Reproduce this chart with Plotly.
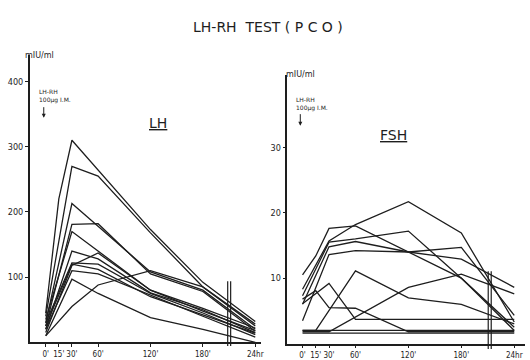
import plotly.graph_objects as go

W, H = 530, 360

# time points (minutes); 240 stands for the 24 hr sample
times = [0, 15, 30, 60, 120, 180, 240]
time_labels = ["0'", "15'", "30'", "60'", "120'", "180'", "24hr"]

# LH (mIU/ml), one list per patient
lh_a = [45, 220, 310, None, 173, 92, 32]
lh_b = [40, None, 270, 255, 168, 85, 25]
lh_c = [30, None, 213, None, 108, 80, 20]
lh_d = [25, None, 181, 182, 105, 78, 17]
lh_e = [35, None, 170, None, 80, 52, 22]
lh_f = [20, None, 140, 128, 76, 50, 15]
lh_g = [30, None, 122, 120, 75, 45, 12]
lh_h = [15, None, 118, 137, 80, 48, 18]
lh_i = [20, None, 110, 105, 72, 40, 8]
lh_j = [10, None, 97, 75, 38, 20, 0]
lh_k = [10, None, 55, 88, 110, 85, 28]
lh_l = [25, None, 120, 112, 70, 42, 14]
lh_series = [lh_a, lh_b, lh_c, lh_d, lh_e, lh_f, lh_g, lh_h, lh_i, lh_j, lh_k, lh_l]

# FSH (mIU/ml)
fsh_a = [8.3, None, 15.7, 18.2, 21.7, 16.9, 3.3]
fsh_b = [10.5, 13.4, 17.6, 18.0, None, 10.0, 2.5]
fsh_c = [7.3, None, 15.5, 16.0, 17.2, 10.0, 2.0]
fsh_d = [6.0, None, 14.8, 15.6, 14.0, 12.9, 8.6]
fsh_e = [3.5, None, 13.6, 14.2, 14.0, 14.7, 4.3]
fsh_f = [2.0, 2.0, None, 11.1, 7.0, 6.0, 3.0]
fsh_g = [6.1, None, 9.2, 3.7, 3.7, 3.7, 3.7]
fsh_h = [6.8, 8.1, 5.5, 5.4, 1.8, 1.8, 1.8]
fsh_i = [1.8, 1.8, 1.8, None, 8.6, 10.6, 7.6]
fsh_j = [1.6, 1.6, 1.6, 1.6, 1.6, 1.6, 1.6]
fsh_k = [2.0, 2.0, 2.0, 2.0, 2.0, 2.0, 2.0]
fsh_series = [fsh_a, fsh_b, fsh_c, fsh_d, fsh_e, fsh_f, fsh_g, fsh_h, fsh_i, fsh_j, fsh_k]

lh_ticks = [100, 200, 300, 400]
fsh_ticks = [10, 20, 30]

INK = "#1e1e1e"

fig = go.Figure()
for s in lh_series:
    fig.add_trace(go.Scatter(x=times, y=s, mode="lines", connectgaps=True,
                             line=dict(color=INK, width=1.3), xaxis="x", yaxis="y",
                             showlegend=False, hoverinfo="skip"))
for s in fsh_series:
    fig.add_trace(go.Scatter(x=times, y=s, mode="lines", connectgaps=True,
                             line=dict(color=INK, width=1.3), xaxis="x2", yaxis="y2",
                             showlegend=False, hoverinfo="skip"))

def px(x):
    return x / W

def py(y):
    return 1 - y / H

axis_common = dict(showline=True, linecolor=INK, linewidth=1.5, showgrid=False,
                   zeroline=False, ticks="outside", ticklen=3, tickcolor=INK, tickangle=0)
xfont = dict(family="DejaVu Sans Condensed, DejaVu Sans", size=8, color=INK)
yfont = dict(family="DejaVu Sans Condensed, DejaVu Sans", size=9, color=INK)

fig.update_layout(
    width=W, height=H, margin=dict(l=0, r=0, t=0, b=0),
    paper_bgcolor="white", plot_bgcolor="white",
    xaxis=dict(domain=[px(30), px(262)], range=[-18.2, 246.0], anchor="y",
               tickvals=times, ticktext=time_labels, tickfont=xfont, **axis_common),
    yaxis=dict(domain=[py(343.3), py(55)], range=[0, 441], anchor="x",
               tickvals=lh_ticks, tickfont=yfont, **axis_common),
    xaxis2=dict(domain=[px(289), px(528)], range=[-17.2, 252.2], anchor="y2",
                tickvals=times, ticktext=time_labels, tickfont=xfont, **axis_common),
    yaxis2=dict(domain=[py(344.5), py(75)], range=[0, 41.1], anchor="x2",
                tickvals=fsh_ticks, tickfont=yfont, **axis_common),
)

font_main = "DejaVu Sans"
ann = []
ann.append(dict(text="LH-RH  TEST ( P C O )", x=px(270), y=py(17), xref="paper", yref="paper",
                showarrow=False, font=dict(family=font_main, size=14, color=INK)))
# unit labels
ann.append(dict(text="mIU/ml", x=px(23), y=py(49), xref="paper", yref="paper",
                showarrow=False, font=dict(family=font_main, size=8, color=INK)))
ann.append(dict(text="mIU/ml", x=px(302), y=py(68), xref="paper", yref="paper",
                showarrow=False, font=dict(family=font_main, size=8, color=INK)))
# panel names
ann.append(dict(text="<u>LH</u>", x=px(148), y=py(113), xref="paper", yref="paper",
                showarrow=False, font=dict(family=font_main, size=14, color=INK)))
ann.append(dict(text="<u>FSH</u>", x=px(411), y=py(135), xref="paper", yref="paper",
                showarrow=False, font=dict(family=font_main, size=14, color=INK)))
# injection notes
for (x0, y0, ax_x, ay_top, ay_bot) in [(37, 96, 44, 106, 118), (296, 104, 302, 113, 126)]:
    ann.append(dict(text="LH-RH<br>100µg I.M.", x=px(x0), y=py(y0), xref="paper", yref="paper",
                    xanchor="left", yanchor="middle", align="left", showarrow=False,
                    font=dict(family=font_main, size=6, color=INK)))
    ann.append(dict(text="", x=px(ax_x), y=py(ay_bot), xref="paper", yref="paper",
                    ax=0, ay=-(ay_bot - ay_top),
                    showarrow=True, arrowhead=2, arrowsize=0.8, arrowwidth=1, arrowcolor=INK))
fig.update_layout(annotations=ann)

# axis break marks
shapes = []
for xr, xa, xb, ytop, ybot in [("x", 208.4, 211.8, 282, 347), ("x2", 210.5, 213.9, 272, 350)]:
    for xv in (xa, xb):
        shapes.append(dict(type="line", xref=xr, yref="paper", x0=xv, x1=xv,
                           y0=py(ytop), y1=py(ybot), line=dict(color=INK, width=1.2)))
fig.update_layout(shapes=shapes)

fig.write_html("out.html")
